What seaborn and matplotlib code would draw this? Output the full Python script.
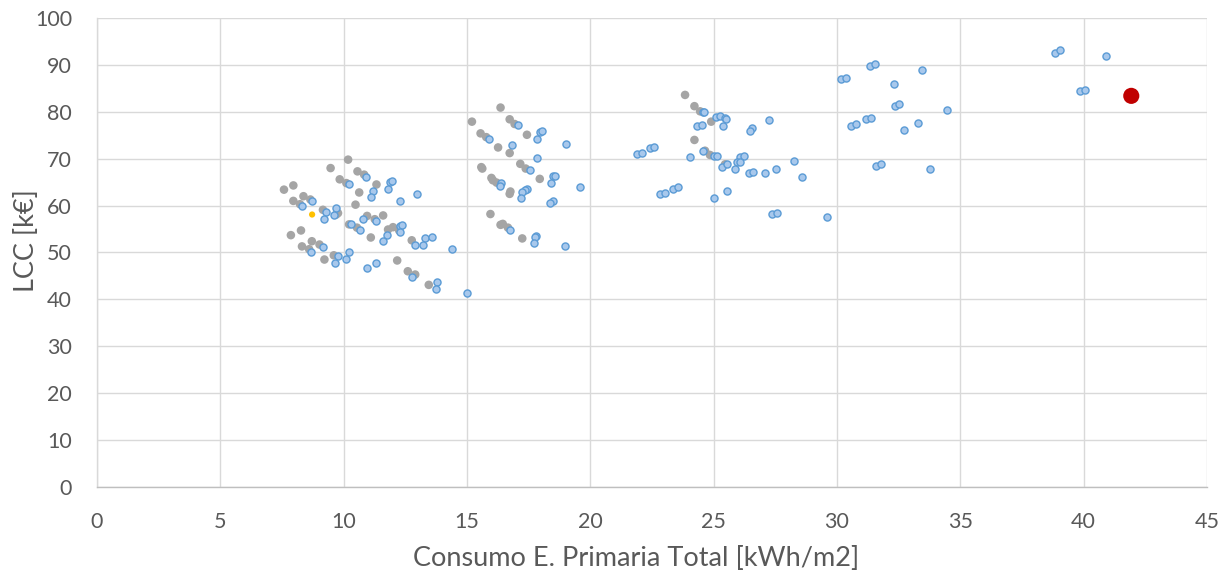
import matplotlib
matplotlib.use("Agg")
import matplotlib.pyplot as plt
import seaborn as sns
import pandas as pd

# Soluciones evaluadas (gris): consumo de energía primaria y coste de ciclo de vida
gris_x = [10.18, 9.47, 10.56, 10.83, 9.84, 10.11, 11.33, 7.58, 7.96, 10.63, 8.37, 7.96,
          8.65, 8.23, 10.48, 9.16, 9.77, 9.70, 10.95, 11.60, 11.26, 10.22, 10.54, 11.80,
          12.00, 12.25, 8.27, 7.86, 11.10, 8.71, 8.31, 9.02, 8.60, 12.76, 9.60, 9.22,
          12.17, 12.60, 12.90, 13.45,
          16.36, 15.20, 16.73, 16.93, 15.55, 15.78, 17.43, 16.26, 16.73, 17.16, 15.58,
          15.62, 17.38, 15.99, 16.05, 16.20, 17.95, 16.76, 16.73, 15.95, 16.36, 16.45,
          16.66, 17.24,
          23.84, 24.22, 24.45, 24.90, 24.22, 24.65, 24.85, 25.46]
gris_y = [69.8, 68.0, 67.3, 66.6, 65.6, 64.8, 64.5, 63.4, 64.3, 62.8, 62.0, 61.0,
          61.3, 60.3, 60.2, 59.1, 58.4, 58.1, 57.8, 57.9, 57.1, 56.0, 55.3, 54.9,
          55.4, 54.7, 54.7, 53.7, 53.2, 52.4, 51.3, 51.7, 50.7, 52.6, 49.4, 48.5,
          48.3, 46.0, 45.3, 43.1,
          80.9, 77.9, 78.4, 77.4, 75.4, 74.6, 75.1, 72.4, 71.2, 68.9, 68.2,
          67.9, 67.9, 65.9, 65.4, 64.9, 65.7, 63.0, 62.5, 58.2, 55.9, 56.1,
          55.3, 53.0,
          83.6, 81.2, 80.1, 77.9, 74.0, 71.7, 70.8, 68.8]

# Frontera de soluciones óptimas (azul)
azul_x = [10.92, 10.22, 11.88, 11.95, 11.80, 11.20, 11.10, 12.99, 12.30, 8.72, 8.30,
          9.70, 9.30, 9.60, 9.20, 10.80, 11.33, 10.30, 10.65, 12.30, 12.37, 12.30,
          11.74, 11.60, 13.30, 13.60, 12.90, 13.20, 14.40, 8.68, 9.15, 10.20, 10.10,
          9.76, 9.66, 10.95, 11.33, 12.76, 13.78, 13.74, 15.00,
          17.07, 17.95, 18.04, 15.90, 17.84, 16.84, 19.03, 17.84, 17.54, 18.50, 18.58,
          18.40, 19.60, 16.36, 16.35, 17.43, 17.34, 17.24, 17.20, 18.49, 18.35, 16.76,
          17.80, 17.74, 17.70, 18.97,
          24.55, 24.62, 25.08, 25.26, 25.47, 25.50, 27.24, 24.34, 24.51, 25.36, 26.54,
          26.47, 21.88, 22.08, 22.42, 22.60, 24.04, 24.58, 25.03, 25.12, 26.07, 26.24,
          25.96, 26.07, 25.32, 25.53, 25.88, 26.43, 26.58, 27.09, 27.51, 28.26, 28.59,
          22.82, 23.03, 23.34, 23.54, 25.55, 25.03, 27.38, 27.57, 29.58,
          31.33, 31.54, 30.18, 30.35, 33.44, 32.31, 32.35, 32.53, 34.46, 31.17, 31.36,
          30.58, 30.79, 33.27, 32.73, 31.58, 31.77, 33.78,
          38.82, 39.03, 40.90, 39.86, 40.07]
azul_y = [66.2, 64.5, 65.0, 65.3, 63.6, 63.2, 61.8, 62.5, 60.9, 60.9, 59.9,
          59.5, 58.6, 58.1, 57.1, 57.2, 56.7, 56.1, 54.9, 55.6, 55.8, 54.4,
          53.8, 52.4, 53.1, 53.4, 51.7, 51.5, 50.8, 50.2, 51.2, 50.2, 48.7,
          49.2, 47.8, 46.8, 47.8, 44.8, 43.7, 42.3, 41.4,
          77.1, 75.6, 75.9, 74.2, 74.1, 72.9, 73.1, 70.1, 67.6, 66.4, 66.4,
          64.9, 63.9, 64.8, 64.1, 63.6, 63.4, 62.9, 61.6, 61.0, 60.5, 54.8,
          53.6, 53.4, 52.1, 51.4,
          79.9, 79.9, 78.9, 79.1, 78.7, 78.4, 78.2, 77.0, 77.2, 77.0, 76.5,
          76.0, 71.0, 71.3, 72.2, 72.5, 70.3, 71.6, 70.6, 70.6, 70.3, 70.6,
          69.4, 69.4, 68.3, 68.9, 67.9, 66.9, 67.1, 66.9, 67.9, 69.6, 66.2,
          62.4, 62.6, 63.6, 63.9, 63.2, 61.7, 58.2, 58.5, 57.5,
          89.7, 90.2, 87.0, 87.3, 89.0, 86.0, 81.3, 81.6, 80.4, 78.4, 78.7,
          76.9, 77.4, 77.7, 76.2, 68.5, 68.8, 67.8,
          92.6, 93.2, 92.0, 84.4, 84.6]

# Solución seleccionada (amarillo) y caso de referencia (rojo)
sel_x = [8.72]
sel_y = [58.1]
ref_x = [41.93]
ref_y = [83.4]

x_ticks = [0, 5, 10, 15, 20, 25, 30, 35, 40, 45]
y_ticks = [0, 10, 20, 30, 40, 50, 60, 70, 80, 90, 100]

sns.set_theme(style="white")
plt.rcParams["font.family"] = ["Lato", "DejaVu Sans"]

fig = plt.figure(figsize=(12.32, 5.74), dpi=100)
ax = fig.add_axes([97 / 1232, 1 - 487 / 574, (1207 - 97) / 1232, (487 - 18) / 574])

gris = pd.DataFrame({"x": gris_x, "y": gris_y})
azul = pd.DataFrame({"x": azul_x, "y": azul_y})
sel = pd.DataFrame({"x": sel_x, "y": sel_y})
ref = pd.DataFrame({"x": ref_x, "y": ref_y})

sns.scatterplot(data=gris, x="x", y="y", ax=ax, color="#a5a5a5", s=38,
                edgecolor="none", zorder=3)
sns.scatterplot(data=azul, x="x", y="y", ax=ax, color="#a8c8ec", s=26,
                edgecolor="#5b9bd5", linewidth=1.0, zorder=4)
sns.scatterplot(data=sel, x="x", y="y", ax=ax, color="#ffc000", s=20,
                edgecolor="none", zorder=5)
sns.scatterplot(data=ref, x="x", y="y", ax=ax, color="#c00000", s=135,
                edgecolor="none", zorder=6)

ax.set_xlim(0, 45)
ax.set_ylim(0, 100)
ax.set_xticks(x_ticks)
ax.set_yticks(y_ticks)
ax.set_xticklabels([str(v) for v in x_ticks])
ax.set_yticklabels([str(v) for v in y_ticks])

ax.grid(True, color="#d9d9d9", linewidth=1.0, zorder=0)
ax.set_axisbelow(True)
for side in ["top", "right"]:
    ax.spines[side].set_visible(False)
ax.spines["left"].set_color("#d9d9d9")
ax.spines["left"].set_linewidth(1.0)
ax.spines["bottom"].set_color("#bfbfbf")
ax.spines["bottom"].set_linewidth(1.0)

ax.tick_params(axis="both", length=0, labelsize=15.5, labelcolor="#595959")
ax.tick_params(axis="y", pad=18)
ax.tick_params(axis="x", pad=18)

ax.set_xlabel("Consumo E. Primaria Total [kWh/m2]", fontsize=19.5, color="#595959")
ax.xaxis.label.set_va("center")
ax.xaxis.set_label_coords((636 - 97) / 1110, (487 - 559) / 469)

ax.set_ylabel("LCC [k€]", fontsize=19.5, color="#595959")
ax.yaxis.label.set_va("center")
ax.yaxis.set_label_coords((26 - 97) / 1110, (487 - 241) / 469)

fig.savefig("out.png", dpi=100)
